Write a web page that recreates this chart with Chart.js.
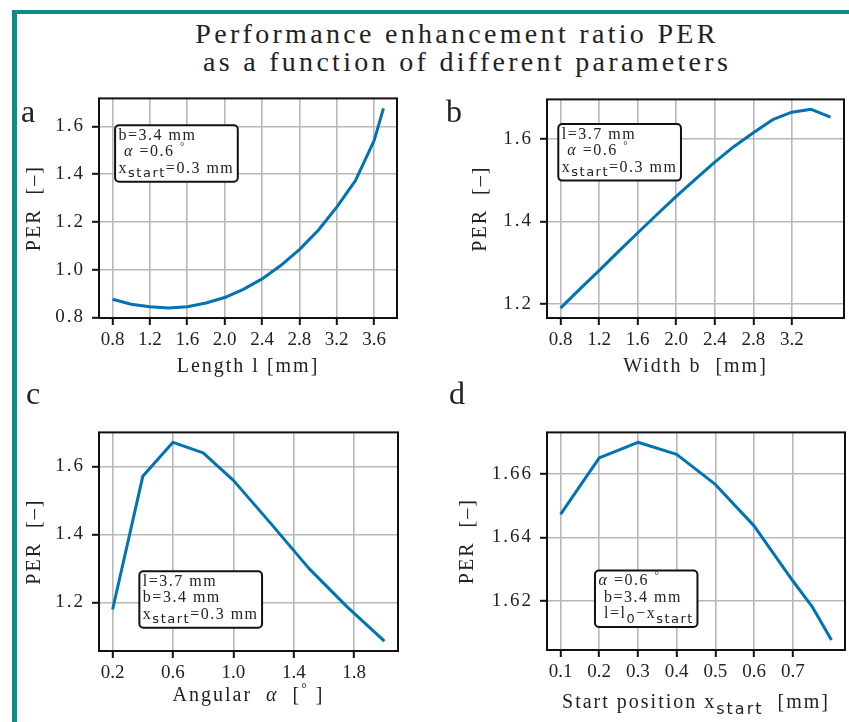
<!DOCTYPE html>
<html>
<head>
<meta charset="utf-8">
<title>Performance enhancement ratio PER</title>
<script src="https://cdn.jsdelivr.net/npm/chart.js@4.4.1/dist/chart.umd.min.js"></script>
<style>
  body { margin: 0; background: #fff; }
  #page { position: relative; width: 849px; height: 722px; overflow: hidden; background: #fff; }
  .bar { position: absolute; background: #0b8b8b; }
  .title { position: absolute; width: 800px; text-align: center; white-space: pre;
           font: 28px "Liberation Serif", serif; line-height: 28px; letter-spacing: 3.3px; color: #222; }
  .tag { position: absolute; font: 32px "Liberation Serif", serif; line-height: 32px; color: #222; }
  canvas { position: absolute; }
</style>
</head>
<body>
<div id="page">
  <div class="bar" style="left:12px;top:10px;width:837px;height:4px"></div>
  <div class="bar" style="left:12px;top:10px;width:5px;height:712px"></div>
  <div class="title" style="left:57px;top:20px">Performance enhancement ratio PER</div>
  <div class="title" style="left:67px;top:48px">as a function of different parameters</div>
  <canvas id="chartA"></canvas>
  <canvas id="chartB"></canvas>
  <canvas id="chartC"></canvas>
  <canvas id="chartD"></canvas>
  <div class="tag" style="left:21px;top:95px">a</div>
  <div class="tag" style="left:446px;top:95px">b</div>
  <div class="tag" style="left:26px;top:377px">c</div>
  <div class="tag" style="left:449px;top:377px">d</div>
</div>
<script>
// a: PER vs length l
const lengthL = [0.8, 1.0, 1.2, 1.4, 1.6, 1.8, 2.0, 2.2, 2.4, 2.6, 2.8, 3.0, 3.2, 3.4, 3.6, 3.7];
const perLength = [0.876, 0.855, 0.844, 0.839, 0.844, 0.860, 0.883, 0.917, 0.961, 1.017, 1.084, 1.164, 1.262, 1.373, 1.541, 1.676];
// b: PER vs width b
const widthB = [0.8, 1.0, 1.2, 1.4, 1.6, 1.8, 2.0, 2.2, 2.4, 2.6, 2.8, 3.0, 3.2, 3.4, 3.6];
const perWidth = [1.190, 1.236, 1.281, 1.327, 1.372, 1.417, 1.461, 1.503, 1.544, 1.582, 1.615, 1.647, 1.665, 1.672, 1.653];
// c: PER vs angle alpha
const angleA = [0.2, 0.4, 0.6, 0.8, 1.0, 1.25, 1.5, 1.75, 2.0];
const perAngle = [1.179, 1.571, 1.671, 1.640, 1.559, 1.431, 1.300, 1.188, 1.086];
// d: PER vs start position
const startX = [0.1, 0.2, 0.3, 0.4, 0.5, 0.6, 0.7, 0.75, 0.8];
const perStart = [1.6472, 1.6649, 1.6698, 1.6660, 1.6566, 1.6436, 1.6264, 1.6183, 1.6078];

// tick labels
const ticksLengthX = [0.8, 1.2, 1.6, 2.0, 2.4, 2.8, 3.2, 3.6];
const ticksLengthY = [0.8, 1.0, 1.2, 1.4, 1.6];
const ticksWidthX = [0.8, 1.2, 1.6, 2.0, 2.4, 2.8, 3.2];
const ticksWidthY = [1.2, 1.4, 1.6];
const ticksAngleX = [0.2, 0.6, 1.0, 1.4, 1.8];
const ticksAngleY = [1.2, 1.4, 1.6];
const ticksStartX = [0.1, 0.2, 0.3, 0.4, 0.5, 0.6, 0.7];
const ticksStartY = [1.62, 1.64, 1.66];

// parameter boxes: [text, style] segments per line
const noteA = [[["b=3.4 mm"]], [[" "], ["α", "i"], [" =0.6 "], ["°", "sup"]], [["x"], ["start", "sub"], ["=0.3 mm"]]];
const noteB = [[["l=3.7 mm"]], [[" "], ["α", "i"], [" =0.6 "], ["°", "sup"]], [["x"], ["start", "sub"], ["=0.3 mm"]]];
const noteC = [[["l=3.7 mm"]], [["b=3.4 mm"]], [["x"], ["start", "sub"], ["=0.3 mm"]]];
const noteD = [[["α", "i"], [" =0.6 "], ["°", "sup"]], [[" b=3.4 mm"]], [[" l=l"], ["0", "sub"], ["−x"], ["start", "sub"]]];

const SERIF = "'Liberation Serif', serif";
const INK = "#222";

function limits(v) {
  const lo = Math.min(...v), hi = Math.max(...v), m = (hi - lo) * 0.05;
  return [lo - m, hi + m];
}

function segStyle(kind, size) {
  if (kind === "sub") return { font: Math.round(size * 0.8) + "px 'DejaVu Sans', sans-serif", dy: size * 0.28 };
  if (kind === "sup") return { font: Math.round(size * 0.7) + "px " + SERIF, dy: -size * 0.4 };
  if (kind === "i") return { font: "italic " + size + "px " + SERIF, dy: 0 };
  return { font: size + "px " + SERIF, dy: 0 };
}
function richWidth(ctx, segs, size) {
  let w = 0;
  for (const [t, k] of segs) { ctx.font = segStyle(k, size).font; w += ctx.measureText(t).width; }
  return w;
}
function drawRich(ctx, segs, x, y, size) {
  for (const [t, k] of segs) {
    const st = segStyle(k, size);
    ctx.font = st.font;
    ctx.fillText(t, x, y + st.dy);
    x += ctx.measureText(t).width;
  }
}

// wider letter spacing for axis titles and y tick labels
const spacing = {
  id: "spacing",
  beforeDraw(chart) {
    const ctx = chart.ctx;
    for (const s of Object.values(chart.scales)) {
      if (s._spaced) continue;
      s._spaced = true;
      const title = s.drawTitle, labels = s.drawLabels;
      s.drawTitle = function () { ctx.letterSpacing = "2px"; title.call(this); ctx.letterSpacing = "0px"; };
      if (s.axis === "y") s.drawLabels = function (a) { ctx.letterSpacing = "2px"; labels.call(this, a); ctx.letterSpacing = "0px"; };
    }
  }
};

function makeChart(p) {
  const cv = document.getElementById(p.id);
  const [l, t, r, b] = p.area;
  const left = l - 95, top = t - 15, right = Math.min(r + 20, 849), bottom = b + 70;
  cv.width = right - left; cv.height = bottom - top;
  cv.style.left = left + "px"; cv.style.top = top + "px";
  cv.style.width = cv.width + "px"; cv.style.height = cv.height + "px";

  const [xmin, xmax] = limits(p.x);
  const [ymin, ymax] = limits(p.y);

  const deco = {
    id: "deco",
    afterDatasetsDraw(chart) {
      const { ctx, chartArea: a } = chart;
      ctx.save();
      ctx.strokeStyle = "#111";
      ctx.lineWidth = 2;
      ctx.strokeRect(a.left, a.top, a.right - a.left, a.bottom - a.top);

      ctx.letterSpacing = "1.5px";
      ctx.textAlign = "left";
      ctx.textBaseline = "alphabetic";
      const size = 16, lh = 16.5, pad = 3.5;
      const w = Math.max(...p.note.map(line => richWidth(ctx, line, size))) + 2 * pad;
      const h = p.note.length * lh + 7;
      const x = a.left + p.noteAt[0] * (a.right - a.left);
      const y = a.top + p.noteAt[1] * (a.bottom - a.top);
      ctx.beginPath();
      ctx.roundRect(x, y, w, h, 4);
      ctx.fillStyle = "#fff";
      ctx.fill();
      ctx.stroke();
      ctx.fillStyle = INK;
      p.note.forEach((line, i) => drawRich(ctx, line, x + pad, y + 14.5 + i * lh, size));

      if (p.xRich) {
        ctx.letterSpacing = "2px";
        const tw = richWidth(ctx, p.xRich, 20);
        drawRich(ctx, p.xRich, (a.left + a.right) / 2 - tw / 2, a.bottom + p.xRichDrop, 20);
      }
      ctx.restore();
    }
  };

  return new Chart(cv, {
    type: "line",
    data: {
      datasets: [{
        data: p.x.map((v, i) => ({ x: v, y: p.y[i] })),
        borderColor: "#0173b2",
        borderWidth: 3,
        pointRadius: 0,
        tension: 0,
        fill: false,
        borderJoinStyle: "round"
      }]
    },
    options: {
      responsive: false,
      animation: false,
      devicePixelRatio: 1,
      layout: { padding: { left: 0, top: 15, right: right - r, bottom: 0 } },
      plugins: { legend: { display: false }, tooltip: { enabled: false } },
      scales: {
        x: {
          type: "linear",
          min: xmin,
          max: xmax,
          afterBuildTicks: s => { s.ticks = p.xTicks.map(v => ({ value: v })); },
          afterFit: s => { s.height = 70; },
          ticks: {
            autoSkip: false, maxRotation: 0, padding: 4, color: INK,
            font: { family: SERIF, size: 19 },
            callback: v => v.toFixed(1)
          },
          grid: { color: "#b8b8b8", lineWidth: 1.6, tickColor: "#111", tickLength: 7, tickWidth: 2 },
          border: { display: false },
          title: {
            display: !!p.xTitle, text: p.xTitle || "", color: INK,
            font: { family: SERIF, size: 20 }, padding: { top: 0, bottom: 9 }
          }
        },
        y: {
          min: ymin,
          max: ymax,
          afterBuildTicks: s => { s.ticks = p.yTicks.map(v => ({ value: v })); },
          afterFit: s => { s.width = 95; },
          ticks: {
            autoSkip: false, padding: 7, color: INK,
            font: { family: SERIF, size: 19 },
            callback: v => v.toFixed(p.yDec)
          },
          grid: { color: "#b8b8b8", lineWidth: 1.6, tickColor: "#111", tickLength: 7, tickWidth: 2 },
          border: { display: false },
          title: {
            display: true, text: "PER  [–]", color: INK,
            font: { family: SERIF, size: 20 }, padding: { top: p.yTitlePad, bottom: 0 }
          }
        }
      }
    },
    plugins: [spacing, deco]
  });
}

makeChart({ id: "chartA", area: [99, 95, 397, 318], x: lengthL, y: perLength,
  xTicks: ticksLengthX, yTicks: ticksLengthY, yDec: 1, yTitlePad: 19,
  xTitle: "Length l [mm]", note: noteA, noteAt: [0.054, 0.122] });
makeChart({ id: "chartB", area: [547, 96, 844, 318], x: widthB, y: perWidth,
  xTicks: ticksWidthX, yTicks: ticksWidthY, yDec: 1, yTitlePad: 17,
  xTitle: "Width b  [mm]", note: noteB, noteAt: [0.038, 0.113] });
makeChart({ id: "chartC", area: [99, 429, 398, 651], x: angleA, y: perAngle,
  xTicks: ticksAngleX, yTicks: ticksAngleY, yDec: 1, yTitlePad: 19,
  xRich: [["Angular  "], ["α", "i"], ["  ["], ["°", "sup"], [" ]"]], xRichDrop: 50,
  note: noteC, noteAt: [0.135, 0.635] });
makeChart({ id: "chartD", area: [547, 429, 845, 650], x: startX, y: perStart,
  xTicks: ticksStartX, yTicks: ticksStartY, yDec: 2, yTitlePad: 4,
  xRich: [["Start position x"], ["start", "sub"], ["  [mm]"]], xRichDrop: 58,
  note: noteD, noteAt: [0.161, 0.635] });
</script>
</body>
</html>
